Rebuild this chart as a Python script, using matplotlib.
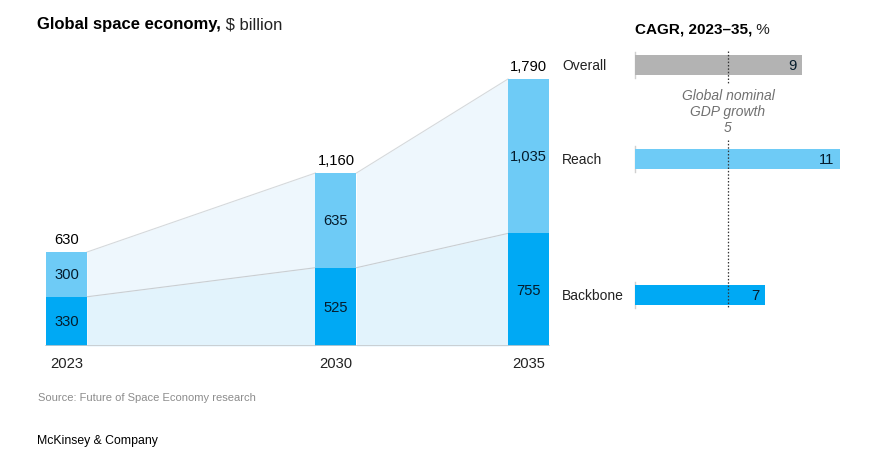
import matplotlib
matplotlib.use("Agg")
import matplotlib.pyplot as plt

plt.rcParams['font.family'] = ['Liberation Sans', 'DejaVu Sans']

# ---- data ----
years = [2023, 2030, 2035]
backbone = [330, 525, 755]
reach = [300, 635, 1035]
totals = [630, 1160, 1790]
total_labels = ["630", "1,160", "1,790"]
reach_labels = ["300", "635", "1,035"]
backbone_labels = ["330", "525", "755"]

cagr_cats = ["Overall", "Reach", "Backbone"]
cagr_vals = [9, 11, 7]
gdp_growth = 5

# ---- style ----
C_REACH = "#6ECBF6"
C_BACK = "#00A9F4"
C_GRAY = "#B3B3B3"
C_FILL_UP = "#EEF7FD"
C_FILL_LO = "#E2F3FC"
C_TXT = "#051C2C"
NUM_FS = 10.6

W, H = 889, 464
fig = plt.figure(figsize=(W / 100, H / 100), dpi=100)

# left axes geometry (pixels)
ax_l_px, ax_r_px = 40, 560
ax_b_px, ax_t_px = 117, 420
px_per_year = 38.5
px_per_unit = 267 / 1790.0
ax = fig.add_axes([ax_l_px / W, ax_b_px / H, (ax_r_px - ax_l_px) / W, (ax_t_px - ax_b_px) / H])
ax.set_xlim(2023 - (66.5 - ax_l_px) / px_per_year, 2023 + (ax_r_px - 66.5) / px_per_year)
ax.set_ylim(0, (ax_t_px - ax_b_px) / px_per_unit)
ax.axis('off')

bw = 41 / px_per_year
hw = bw / 2

# filled bands between bars
for i in range(len(years) - 1):
    xs = [years[i] + hw, years[i + 1] - hw]
    b = [backbone[i], backbone[i + 1]]
    t = [totals[i], totals[i + 1]]
    ax.fill_between(xs, 0, b, color=C_FILL_LO, lw=0, zorder=1)
    ax.fill_between(xs, b, t, color=C_FILL_UP, lw=0, zorder=1)
    ax.plot(xs, b, color="#C9CED2", lw=0.8, zorder=2)
    ax.plot(xs, t, color="#D5D9DC", lw=0.8, zorder=2)

ax.bar(years, backbone, width=bw, color=C_BACK, zorder=3, lw=0)
ax.bar(years, reach, width=bw, bottom=backbone, color=C_REACH, zorder=3, lw=0)
ax.plot([years[0] - hw, years[-1] + hw], [0, 0], color="#C6C9CC", lw=1.2, zorder=4)

for x, b, r, t, tl, rl, bl in zip(years, backbone, reach, totals, total_labels, reach_labels, backbone_labels):
    ax.text(x, b / 2, bl, ha='center', va='center', fontsize=NUM_FS, color=C_TXT, zorder=5)
    ax.text(x, b + r / 2, rl, ha='center', va='center', fontsize=NUM_FS, color=C_TXT, zorder=5)
    ax.annotate(tl, (x, t), xytext=(0, 4.5), textcoords='offset points', ha='center',
                va='bottom', fontsize=NUM_FS, color='black')
    ax.annotate(str(x), (x, 0), xytext=(0, -7), textcoords='offset points', ha='center',
                va='top', fontsize=NUM_FS, color='#222222')

# right axes: full figure, x in CAGR units, y in pixels from top
x0_px = 635
px_per_pct = 18.6
axr = fig.add_axes([0, 0, 1, 1])
axr.set_xlim(-x0_px / px_per_pct, (W - x0_px) / px_per_pct)
axr.set_ylim(H, 0)
axr.axis('off')
axr.patch.set_alpha(0)

row_y = [66, 160, 296]
row_colors = [C_GRAY, C_REACH, C_BACK]
bar_h = 20
axr.barh(row_y, cagr_vals, height=bar_h, color=row_colors, lw=0, zorder=2)
for y, v, name in zip(row_y, cagr_vals, cagr_cats):
    axr.plot([0, 0], [y - 13, y + 13], color="#D0D0D0", lw=1, zorder=1)
    axr.annotate(str(v), (v, y), xytext=(-4, 0), textcoords='offset points', ha='right',
                 va='center', fontsize=NUM_FS, color=C_TXT, zorder=4)
    axr.text((562 - x0_px) / px_per_pct, y, name, ha='left', va='center', fontsize=10, color='#222222')

axr.plot([gdp_growth, gdp_growth], [52, 84], color="#333333", lw=0.9, ls=(0, (1.2, 1.5)), zorder=3)
axr.plot([gdp_growth, gdp_growth], [141, 309], color="#333333", lw=0.9, ls=(0, (1.2, 1.5)), zorder=3)
axr.text(gdp_growth, 112, "Global nominal\nGDP growth\n" + str(gdp_growth), ha='center', va='center',
         fontsize=10, style='italic', color='#707070', linespacing=1.15)

# titles
t1 = fig.text(37 / W, 1 - 25 / H, "Global space economy,", fontsize=12, fontweight='bold',
              va='center', ha='left', color='black')
axr.annotate(" $ billion", xy=(1, 0), xycoords=t1, va='bottom', ha='left', fontsize=12, color='#222222')

t2 = fig.text(635 / W, 1 - 30 / H, "CAGR, 2023\u201335,", fontsize=11, fontweight='bold',
              va='center', ha='left', color='black')
axr.annotate(" %", xy=(1, 0), xycoords=t2, va='bottom', ha='left', fontsize=11, color='#222222')

fig.text(38 / W, 1 - 398 / H, "Source: Future of Space Economy research", fontsize=8,
         color='#8C8C8C', va='center', ha='left')
fig.text(37 / W, 1 - 441 / H, "McKinsey & Company", fontsize=8.8, color='black', va='center', ha='left')

fig.savefig("out.png", dpi=100)
